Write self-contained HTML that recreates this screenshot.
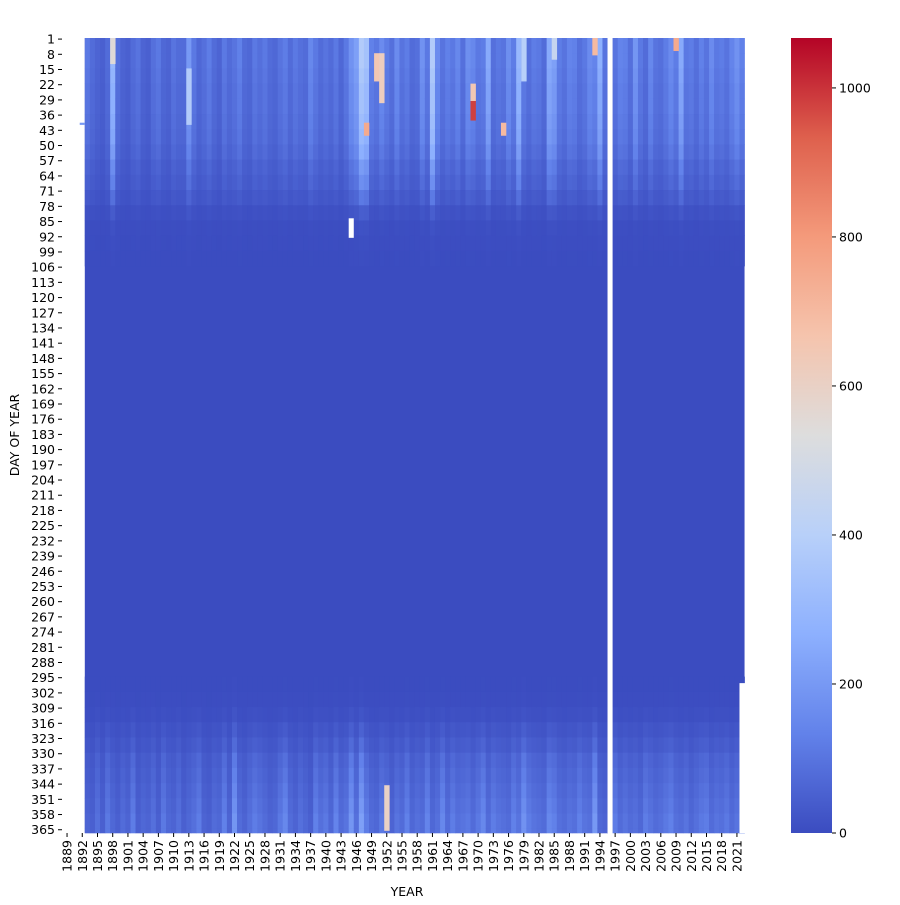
<!DOCTYPE html>
<html><head><meta charset="utf-8"><style>
body{margin:0;background:#fff;}
svg text{font-family:"DejaVu Sans","Liberation Sans",sans-serif;font-size:12.5px;fill:#000;}
</style></head><body>
<svg id="chart" width="900" height="900" xmlns="http://www.w3.org/2000/svg">
<defs><linearGradient id="cg" x1="0" y1="1" x2="0" y2="0">
<stop offset="0" stop-color="#3b4cc0"/><stop offset="0.125" stop-color="#6282ea"/><stop offset="0.25" stop-color="#8db0fe"/><stop offset="0.375" stop-color="#b8d0f9"/><stop offset="0.5" stop-color="#dddddd"/><stop offset="0.625" stop-color="#f5c4ad"/><stop offset="0.75" stop-color="#f49a7b"/><stop offset="0.875" stop-color="#de604d"/><stop offset="1" stop-color="#b40426"/></linearGradient></defs>
<g id="cells"></g>
<g id="yticks"></g>
<g id="xticks"></g>
<text transform="translate(19,435) rotate(-90)" text-anchor="middle">DAY OF YEAR</text>
<text x="407" y="896" text-anchor="middle">YEAR</text>
<rect x="791" y="38" width="41" height="795" fill="url(#cg)"/>
<g id="cbticks"></g>
</svg>
<script>
const firstYear = 1889;
const topVals = [
null,null,null,null,110,80,60,50,80,300,
90,60,50,80,100,60,50,90,110,70,
60,100,80,80,200,110,70,90,120,80,
60,110,80,100,130,80,70,110,90,110,
80,70,100,120,80,110,90,80,150,110,
80,100,80,110,70,110,180,220,380,340,
130,110,160,120,90,160,100,120,80,90,
180,110,380,160,100,130,110,150,90,170,
150,110,120,250,90,110,100,170,120,300,
120,90,120,110,80,250,220,120,100,140,
130,90,110,160,140,270,100,null,100,140,
130,90,190,110,80,150,100,90,120,160,
120,250,110,120,90,130,100,160,110,120,
100,140,180,130];
const bottomVals = [
null,null,null,null,60,50,90,50,110,70,
50,80,60,120,50,70,60,90,50,110,
70,60,90,50,70,90,120,60,50,80,
70,130,60,190,80,60,90,120,100,80,
60,70,110,150,80,60,90,70,50,130,
90,110,70,140,80,100,190,90,220,120,
80,70,110,90,60,100,80,130,70,90,
80,140,70,90,150,80,120,90,100,110,
80,110,150,80,120,100,90,80,130,100,
180,120,100,90,80,150,130,90,80,100,
90,130,100,90,200,70,60,null,120,80,
100,80,90,70,120,100,80,90,110,130,
90,80,100,70,90,110,120,80,100,90,
110,80,100,140];
const weekProfile = [1,1,0.95,0.9,0.9,0.85,0.8,0.7,0.55,0.45,0.3,0.12,0.04,0.02,0.01,0,0,0,0,0,0,0,0,0,0,0,0,0,0,0,0,0,0,0,0,0,0,0,0,0,0,0,0.01,0.03,0.1,0.25,0.4,0.6,0.7,0.8,0.9,1,1];
const eventYears = [1969,1969,1950,1951,1948,1975,1993,2009,1898,1985,1952,1913,1979];
const eventStart = [29,22,8,8,40,40,1,1,1,1,345,15,1];
const eventEnd   = [38,29,20,30,45,45,8,6,12,10,365,40,20];
const eventValue = [980,650,650,620,750,700,700,750,550,450,600,380,400];
const xTickYears = [];for(let y=1889;y<=2021;y+=3)xTickYears.push(y);
const yTickDays = [];for(let d=1;d<=365;d+=7)yTickDays.push(d);
const cbTicks = [0,200,400,600,800,1000];
const nanYear = 1996;

const NS="http://www.w3.org/2000/svg";
const x0=64.5, cw=5.075, y0=38, rh=795/366, vmax=1067;
const X=y=>x0+(y-firstYear)*cw, Y=d=>y0+(d-1)*rh;
const stops=[[59,76,192],[98,130,234],[141,176,254],[184,208,249],[221,221,221],[245,196,173],[244,154,123],[222,96,77],[180,4,38]];
function col(v){if(!isFinite(v))v=0;let t=Math.max(0,Math.min(1,v/vmax))*8,i=Math.min(7,Math.floor(t)),f=t-i;const a=stops[i],b=stops[i+1];return`rgb(${a.map((c,k)=>Math.round(c+(b[k]-c)*f)).join(',')})`;}
function mk(tag,at,p){const e=document.createElementNS(NS,tag);for(const k in at)e.setAttribute(k,at[k]);p.appendChild(e);return e;}
const cells=document.getElementById('cells');
mk('rect',{x:x0+4*cw,y:y0,width:(2023-1893)*cw,height:795,fill:col(0)},cells);
for(let i=0;i<topVals.length;i++){
  const yr=firstYear+i;
  if(yr===nanYear)continue;
  for(let w=0;w<weekProfile.length;w++){
    const base=w<26?topVals[i]:bottomVals[i];
    if(base==null||weekProfile[w]===0)continue;
    const d1=w*7+1,d2=Math.min(w*7+7,366);
    const r=mk('rect',{x:X(yr),y:Y(d1),width:cw+0.3,height:(d2-d1+1)*rh+0.3,fill:col(base*weekProfile[w])},cells);
    
    
  }
}
for(let k=0;k<eventYears.length;k++){
  const r=mk('rect',{x:X(eventYears[k]),y:Y(eventStart[k]),width:cw+0.3,height:(eventEnd[k]-eventStart[k]+1)*rh,fill:col(eventValue[k])},cells);
  
  
}
let r=mk('rect',{x:X(nanYear),y:y0,width:cw,height:795,fill:'#fff'},cells);

r=mk('rect',{x:X(2022),y:Y(298),width:cw+1,height:833-Y(298),fill:'#fff'},cells);

r=mk('rect',{x:X(1945),y:Y(84),width:cw,height:9*rh,fill:'#fff'},cells);

r=mk('rect',{x:X(1892),y:Y(40),width:cw,height:rh,fill:col(200)},cells);

const yt=document.getElementById('yticks');
yTickDays.forEach(d=>{const yy=Y(d)+rh/2;mk('line',{x1:58,x2:62,y1:yy,y2:yy,stroke:'#000'},yt);
 const t=mk('text',{x:55,y:yy+4.5,'text-anchor':'end'},yt);t.textContent=d;
 });
const xt=document.getElementById('xticks');
xTickYears.forEach(y=>{const xx=X(y)+cw/2;mk('line',{x1:xx,x2:xx,y1:833,y2:837,stroke:'#000'},xt);
 const t=mk('text',{transform:`translate(${xx+4.5},840) rotate(-90)`,'text-anchor':'end'},xt);t.textContent=y;
 });
const cb=document.getElementById('cbticks');
cbTicks.forEach(v=>{const yy=833-v/vmax*795;mk('line',{x1:832,x2:836,y1:yy,y2:yy,stroke:'#000'},cb);
 const t=mk('text',{x:839,y:yy+4.5},cb);t.textContent=v;
 });
</script>
</body></html>
